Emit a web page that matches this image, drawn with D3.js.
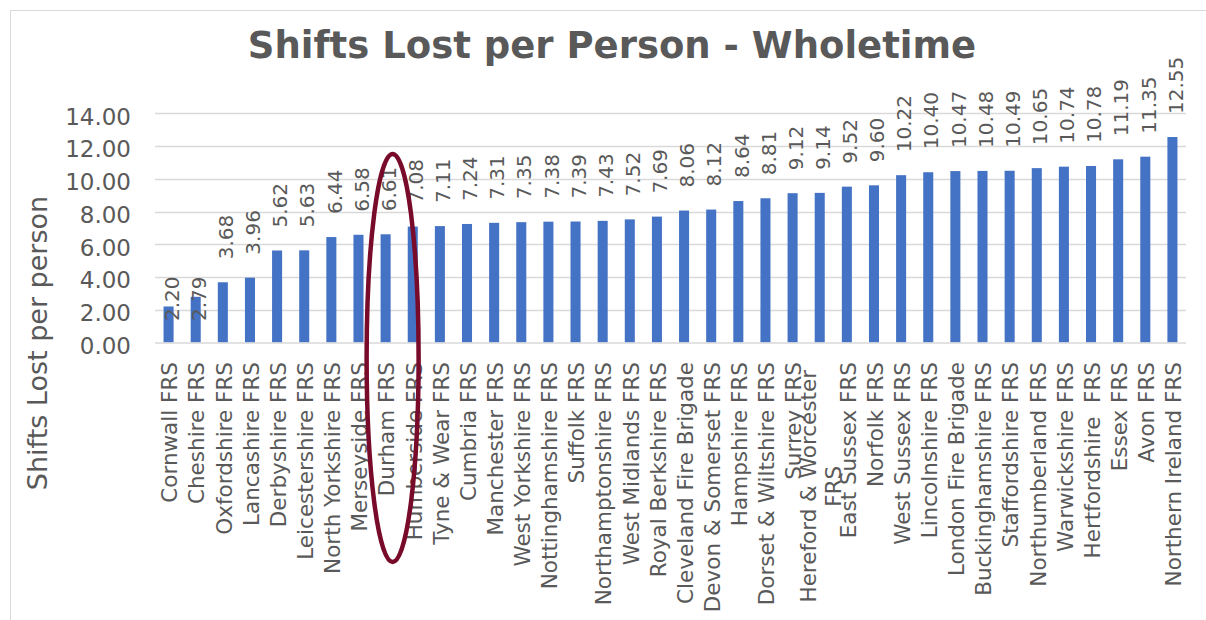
<!DOCTYPE html>
<html>
<head>
<meta charset="utf-8">
<script src="https://cdn.jsdelivr.net/npm/d3@7"></script>
<style>
  html, body { margin: 0; padding: 0; background: #ffffff; }
  svg { display: block; }
  text { font-family: "DejaVu Sans", Verdana, sans-serif; fill: #595959; white-space: pre; }
</style>
</head>
<body>
<svg id="chart" width="1206" height="620"></svg>
<script>
const title = "Shifts Lost per Person - Wholetime";
const yAxisTitle = "Shifts Lost per person";

const categories = [
  "Cornwall FRS", "Cheshire FRS", "Oxfordshire FRS", "Lancashire FRS", "Derbyshire FRS",
  "Leicestershire FRS", "North Yorkshire FRS", "Merseyside FRS", "Durham FRS", "Humberside FRS",
  "Tyne & Wear FRS", "Cumbria FRS", "Manchester FRS", "West Yorkshire FRS", "Nottinghamshire FRS",
  "Suffolk FRS", "Northamptonshire FRS", "West Midlands FRS", "Royal Berkshire FRS", "Cleveland Fire Brigade",
  "Devon & Somerset FRS", "Hampshire FRS", "Dorset & Wiltshire FRS", "Surrey FRS", "Hereford & Worcester\nFRS",
  "East Sussex FRS", "Norfolk FRS", "West Sussex FRS", "Lincolnshire FRS", "London Fire Brigade",
  "Buckinghamshire FRS", "Staffordshire FRS", "Northumberland FRS", "Warwickshire FRS", "Hertfordshire  FRS",
  "Essex FRS", "Avon FRS", "Northern Ireland FRS"
];

const values = [
  2.20, 2.79, 3.68, 3.96, 5.62,
  5.63, 6.44, 6.58, 6.61, 7.08,
  7.11, 7.24, 7.31, 7.35, 7.38,
  7.39, 7.43, 7.52, 7.69, 8.06,
  8.12, 8.64, 8.81, 9.12, 9.14,
  9.52, 9.60, 10.22, 10.40, 10.47,
  10.48, 10.49, 10.65, 10.74, 10.78,
  11.19, 11.35, 12.55
];

const yTicks = [0, 2, 4, 6, 8, 10, 12, 14];
const labelsAtBase = ["Cornwall FRS", "Cheshire FRS"];
const highlighted = "Durham FRS";

const data = categories.map((c, i) => ({ cat: c, val: values[i] }));

const svg = d3.select("#chart");

// chart frame
svg.append("rect")
  .attr("x", 10.5).attr("y", 10.5)
  .attr("width", 1210).attr("height", 630)
  .attr("fill", "#ffffff")
  .attr("stroke", "#d9d9d9").attr("stroke-width", 1);

const plot = { left: 155, right: 1186, top: 113.3, bottom: 342.5 };

const x = d3.scaleBand()
  .domain(categories)
  .range([plot.left, plot.right])
  .paddingInner(0.63)
  .paddingOuter(0.315);

const y = d3.scaleLinear()
  .domain([0, 14])
  .range([plot.bottom, plot.top]);

// gridlines
svg.append("g")
  .selectAll("line")
  .data(yTicks.filter(t => t !== 0))
  .join("line")
  .attr("x1", plot.left).attr("x2", plot.right)
  .attr("y1", d => Math.round(y(d)) + 0.5).attr("y2", d => Math.round(y(d)) + 0.5)
  .attr("stroke", "#d9d9d9").attr("stroke-width", 1.3);

// y axis labels
const yAxis = d3.axisLeft(y).tickValues(yTicks).tickFormat(d3.format(".2f")).tickSize(0).tickPadding(0);
const yG = svg.append("g").attr("transform", "translate(131,3.5)").call(yAxis);
yG.select(".domain").remove();
yG.selectAll("text")
  .attr("font-size", 23)
  .attr("font-family", "DejaVu Sans, Verdana, sans-serif")
  .attr("fill", "#595959");

// bars
svg.append("g")
  .selectAll("rect")
  .data(data)
  .join("rect")
  .attr("x", d => x(d.cat))
  .attr("y", d => y(d.val))
  .attr("width", x.bandwidth())
  .attr("height", d => y(0) - y(d.val))
  .attr("fill", "#4472c4");

// baseline axis
svg.append("line")
  .attr("x1", plot.left).attr("x2", plot.right)
  .attr("y1", y(0) + 0.5).attr("y2", y(0) + 0.5)
  .attr("stroke", "#d9d9d9").attr("stroke-width", 1.5);

// data labels
svg.append("g")
  .selectAll("text")
  .data(data)
  .join("text")
  .attr("transform", d => {
    const cx = x(d.cat) + x.bandwidth() / 2 + 3;
    const yy = labelsAtBase.includes(d.cat) ? y(0) - 21.5 : y(d.val) - 23;
    return `translate(${cx},${yy}) rotate(-90)`;
  })
  .attr("dy", "0.36em")
  .attr("text-anchor", "start")
  .attr("font-size", 20)
  .text(d => d3.format(".2f")(d.val));

// category labels
const catFont = 21.5;
const catG = svg.append("g")
  .selectAll("text")
  .data(data)
  .join("text")
  .attr("transform", d => `translate(${x(d.cat) + x.bandwidth() / 2 + 1},${y(0) + 19.5}) rotate(-90)`)
  .attr("text-anchor", "end")
  .attr("font-size", catFont);

catG.each(function(d) {
  const lines = d.cat.split("\n");
  const t = d3.select(this);
  if (lines.length === 1) {
    t.append("tspan").attr("x", 0).attr("dy", "0.36em").text(lines[0]);
  } else {
    // multi-line: lines centered on each other, block right-aligned
    t.attr("text-anchor", "middle");
    const tmp = t.append("tspan").attr("x", 0).text(lines[0]);
    const w = this.getComputedTextLength();
    tmp.remove();
    const lh = 25;
    const n = lines.length;
    lines.forEach((ln, i) => {
      t.append("tspan")
        .attr("x", -w / 2 - 8)
        .attr("dy", i === 0 ? (0.36 * catFont - (n - 1) * lh / 2) + "px" : lh + "px")
        .text(ln);
    });
  }
});

// title
svg.append("text")
  .attr("x", 612).attr("y", 58)
  .attr("text-anchor", "middle")
  .attr("font-size", 37)
  .attr("font-weight", "bold")
  .text(title);

// y axis title
svg.append("text")
  .attr("transform", "translate(37.5,343) rotate(-90)")
  .attr("text-anchor", "middle")
  .attr("dy", "0.36em")
  .attr("font-size", 27)
  .text(yAxisTitle);

// highlight ellipse around Durham
svg.append("ellipse")
  .attr("cx", x(highlighted) + x.bandwidth() / 2 + 7)
  .attr("cy", 358)
  .attr("rx", 26)
  .attr("ry", 204)
  .attr("fill", "none")
  .attr("stroke", "#780a2a")
  .attr("stroke-width", 4.5);
</script>
</body>
</html>
